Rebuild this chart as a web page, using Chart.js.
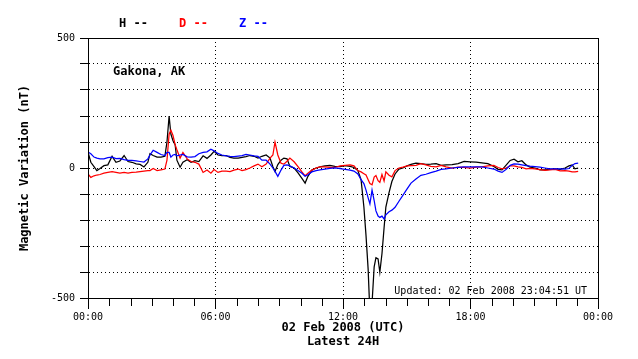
<!DOCTYPE html>
<html>
<head>
<meta charset="utf-8">
<script src="https://cdn.jsdelivr.net/npm/chart.js@4.4.0/dist/chart.umd.min.js"></script>
<style>
html, body { margin: 0; padding: 0; background: #fff; }
#wrap { width: 638px; height: 359px; }
</style>
</head>
<body>
<div id="wrap"><canvas id="magChart" width="638" height="359"></canvas></div>
<script>
// minutes since 00:00 UTC, 02 Feb 2008
const minutes = [0,8,17,25,34,45,56,68,79,90,102,113,124,136,147,158,169,175,184,195,
  206,217,223,229,234,240,246,251,260,268,280,291,302,313,325,336,347,356,367,378,
  390,401,412,424,435,446,457,469,480,491,503,514,522,528,536,545,553,562,570,582,
  593,604,613,621,632,644,655,669,683,697,712,726,740,751,762,771,779,785,791,796,
  802,808,813,819,824,830,836,841,850,858,867,878,889,901,912,926,940,954,968,983,
  997,1011,1028,1045,1062,1079,1096,1112,1129,1146,1158,1169,1180,1192,1203,1214,1225,1237,1248,1262,
  1276,1290,1304,1319,1333,1347,1358,1367,1375,1384];

const hValues = [61,22,5,-10,-2,9,12,45,22,27, 48,25,22,16,14,4,22,55,48,42,
  42,45,100,200,130,105,90,30,3,22, 32,22,28,25,47,37,50,64,50,48,
  48,41,38,38,41,44,48,45,38,45, 50,38,5,-13,13,30,38,35,6,0,
  -19,-40,-58,-32,-8,0,4,8,10,6, 5,9,6,2,-10,-45,-150,-260,-390,-560,
  -520,-380,-345,-350,-401,-330,-230,-150,-95,-52, -23,-4,0,8,14,19,17,14,15,17,
  10,12,13,17,25,24,23,20,17,6, -5,-7,10,29,34,24,28,12,3,0,
  -7,-7,-5,-3,-5,0,8,12,-3,0];

const dValues = [-23,-36,-30,-27,-25,-20,-17,-14,-17,-20, -17,-20,-17,-16,-14,-12,-10,-10,-2,-10,
  -7,-4,30,130,146,125,90,70,38,60, 35,25,22,15,-17,-8,-20,-6,-17,-12,
  -12,-14,-8,-4,-10,-6,0,8,15,5, 15,38,50,100,50,18,15,26,38,24,
  5,-15,-30,-20,-8,0,4,4,2,2, 8,10,12,8,-10,-15,-22,-27,-45,-60,
  -65,-35,-29,-49,-55,-25,-50,-15,-28,-34, -10,0,3,8,9,10,17,12,6,4,
  10,4,0,3,2,0,3,4,8,10, 2,-3,0,8,8,4,2,-3,-1,-3,
  -6,-9,-7,-5,-11,-10,-12,-15,-15,-13];

const zValues = [61,55,42,38,35,35,40,42,36,37, 32,29,29,27,25,23,35,50,68,60,
  52,48,60,60,42,50,52,47,50,52, 43,42,44,55,60,62,72,66,56,50,
  47,45,44,46,48,52,50,47,45,30, 30,15,0,-13,-32,-8,10,12,8,0,
  -10,-20,-32,-26,-15,-10,-7,-4,-1,0, -2,-5,-8,-12,-23,-45,-60,-85,-115,-138,
  -85,-125,-165,-185,-190,-185,-196,-180,-168,-162, -151,-128,-105,-80,-58,-42,-28,-24,-18,-12,
  -5,-3,0,2,4,4,4,4,0,-4, -12,-17,-6,10,16,15,12,9,7,5,
  3,0,-3,-3,-3,-4,-2,10,17,19];

const yLabelled = [500, 0, -500];
const stationName = 'Gakona, AK';
const updatedText = 'Updated: 02 Feb 2008 23:04:51 UT';
const legendItems = [['H --', '#000000'], ['D --', '#ff0000'], ['Z --', '#0000ff']];

const mono = 'DejaVu Sans Mono';

function toPoints(values) {
  return values.map((v, i) => ({ x: minutes[i], y: v }));
}

function hhmm(m) {
  const h = Math.floor(m / 60) % 24;
  return String(h).padStart(2, '0') + ':00';
}

// frame, hourly minor ticks, legend and labels
const decorations = {
  id: 'decorations',
  afterDraw(chart) {
    const { ctx, chartArea: a, scales: { x } } = chart;
    ctx.save();
    ctx.strokeStyle = '#000';
    ctx.lineWidth = 1;
    ctx.strokeRect(a.left + 0.5, a.top + 0.5, a.right - a.left, a.bottom - a.top);
    for (let h = 1; h < 24; h++) {
      if (h % 6 === 0) continue;
      const px = Math.round(x.getPixelForValue(h * 60)) + 0.5;
      ctx.beginPath();
      ctx.moveTo(px, a.bottom);
      ctx.lineTo(px, a.bottom + 8);
      ctx.stroke();
    }

    ctx.textBaseline = 'middle';
    ctx.textAlign = 'left';
    ctx.font = 'bold 12px "' + mono + '"';
    legendItems.forEach(([txt, col], i) => {
      ctx.fillStyle = col;
      ctx.fillText(txt, a.left + 31 + i * 60, a.top - 14);
    });
    ctx.fillStyle = '#000';
    ctx.fillText(stationName, a.left + 25, a.top + 34);

    ctx.font = '10px "' + mono + '"';
    ctx.textAlign = 'right';
    ctx.fillText(updatedText, a.right - 11, a.bottom - 7);
    ctx.restore();
  }
};

const series = [
  { label: 'Z', data: toPoints(zValues), borderColor: '#0000ff' },
  { label: 'D', data: toPoints(dValues), borderColor: '#ff0000' },
  { label: 'H', data: toPoints(hValues), borderColor: '#000000' }
];

const ctx = document.getElementById('magChart').getContext('2d');
const magChart = new Chart(ctx, {
  type: 'line',
  data: {
    datasets: series.map(s => ({
      label: s.label,
      data: s.data,
      borderColor: s.borderColor,
      borderWidth: 1.25,
      pointRadius: 0,
      tension: 0,
      fill: false
    }))
  },
  options: {
    responsive: false,
    animation: false,
    devicePixelRatio: 1,
    layout: { padding: { left: 0, right: 40, top: 38, bottom: 0 } },
    plugins: {
      legend: { display: false },
      tooltip: { enabled: false }
    },
    scales: {
      x: {
        type: 'linear',
        min: 0,
        max: 1440,
        afterFit(s) { s.height = 61; },
        ticks: {
          stepSize: 360,
          padding: 2,
          color: '#000',
          maxRotation: 0,
          autoSkip: false,
          font: { family: mono, size: 10 },
          callback: v => hhmm(v)
        },
        grid: {
          color: c => (c.tick && (c.tick.value === 0 || c.tick.value === 1440)) ? 'rgba(0,0,0,0)' : '#000',
          tickColor: '#000',
          tickLength: 11,
          lineWidth: 1
        },
        border: { display: true, color: '#000', width: 1, dash: [1, 3] },
        title: {
          display: true,
          text: ['02 Feb 2008 (UTC)', 'Latest 24H'],
          color: '#000',
          font: { family: mono, size: 12, weight: 'bold', lineHeight: 14 / 12 },
          padding: { top: 0, bottom: 10 }
        }
      },
      y: {
        min: -500,
        max: 500,
        afterFit(s) { s.width = 88; },
        ticks: {
          stepSize: 100,
          padding: 5,
          color: '#000',
          font: { family: mono, size: 10 },
          callback: v => yLabelled.includes(v) ? String(v) : ''
        },
        grid: {
          color: c => (c.tick && Math.abs(c.tick.value) === 500) ? 'rgba(0,0,0,0)' : '#000',
          tickColor: '#000',
          tickLength: 8,
          lineWidth: 1
        },
        border: { display: true, color: '#000', width: 1, dash: [1, 3] },
        title: {
          display: true,
          text: 'Magnetic Variation (nT)',
          color: '#000',
          font: { family: mono, size: 12, weight: 'bold', lineHeight: 14 / 12 },
          padding: { top: 18, bottom: 0 }
        }
      }
    }
  },
  plugins: [decorations]
});
</script>
</body>
</html>
